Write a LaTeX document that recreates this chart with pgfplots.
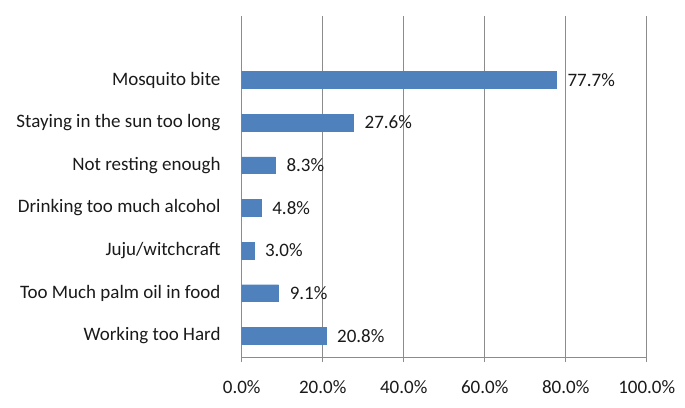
\documentclass[border=0pt]{standalone}
\usepackage{pgfplots}
\pgfplotsset{compat=1.18}
\usepackage{fontspec}
\setmainfont{Carlito}
\definecolor{barblue}{HTML}{4F81BD}
\definecolor{gridgray}{HTML}{8C8C8C}
\definecolor{txt}{HTML}{1A1A1A}
\newcommand{\lf}{\fontsize{19pt}{22pt}\selectfont}
\begin{document}
\begin{tikzpicture}
\path[use as bounding box] (-241.7pt,-50pt) rectangle (443.3pt,357pt);
\begin{axis}[
  at={(0pt,0pt)}, anchor=south west,
  scale only axis,
  width=405pt, height=341pt,
  xbar,
  bar width=16.7pt,
  xmin=0, xmax=100,
  ymin=-0.5, ymax=7.5,
  /pgf/number format/assume math mode=true,
  xtick={0,20,40,60,80,100},
  xticklabels={0.0\%,20.0\%,40.0\%,60.0\%,80.0\%,100.0\%},
  ytick={0,1,2,3,4,5,6},
  yticklabels={Working too Hard,Too Much palm oil in food,Juju/witchcraft,Drinking too much alcohol,Not resting enough,Staying in the sun too long,Mosquito bite},
  xmajorgrids,
  grid style={gridgray, line width=0.8pt},
  axis lines*=left,
  axis line style={gridgray, line width=0.8pt, -},
  ytick style={draw=none},
  xtick style={gridgray, line width=0.8pt},
  xtick align=outside,
  major tick length=5pt,
  xticklabel style={inner sep=0pt, yshift=-18pt, font=\lf, text=txt},
  yticklabel style={inner sep=0pt, xshift=-16pt, font=\lf, text=txt},
  nodes near coords={\pgfmathprintnumber[fixed,fixed zerofill,precision=1,assume math mode=true]{\pgfplotspointmeta}\%},
  nodes near coords style={anchor=west, inner sep=0pt, xshift=11pt, font=\lf, text=txt},
  point meta=explicit,
]
\addplot[fill=barblue, draw=barblue] coordinates {
  (20.8,0) [20.8]
  (9.1,1) [9.1]
  (3.0,2) [3.0]
  (4.8,3) [4.8]
  (8.3,4) [8.3]
  (27.6,5) [27.6]
  (77.7,6) [77.7]
};
\end{axis}
\end{tikzpicture}
\end{document}
